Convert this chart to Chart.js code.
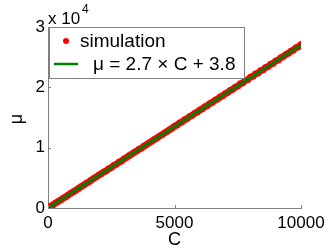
<!DOCTYPE html>
<html lang="en">
<head>
  <meta charset="UTF-8">
  <title>mu vs C</title>
  <script src="https://cdn.jsdelivr.net/npm/chart.js"></script>
  <style>
    html, body { margin: 0; padding: 0; background: #fff; }
    #chart { display: block; }
  </style>
</head>
<body>
  <canvas id="chart" width="332" height="250"></canvas>
  <script>
// simulation points (C, mu)
const simC = [0, 100, 200, 300, 400, 500, 600, 700, 800, 900,
  1000, 1100, 1200, 1300, 1400, 1500, 1600, 1700, 1800, 1900,
  2000, 2100, 2200, 2300, 2400, 2500, 2600, 2700, 2800, 2900,
  3000, 3100, 3200, 3300, 3400, 3500, 3600, 3700, 3800, 3900,
  4000, 4100, 4200, 4300, 4400, 4500, 4600, 4700, 4800, 4900,
  5000, 5100, 5200, 5300, 5400, 5500, 5600, 5700, 5800, 5900,
  6000, 6100, 6200, 6300, 6400, 6500, 6600, 6700, 6800, 6900,
  7000, 7100, 7200, 7300, 7400, 7500, 7600, 7700, 7800, 7900,
  8000, 8100, 8200, 8300, 8400, 8500, 8600, 8700, 8800, 8900,
  9000, 9100, 9200, 9300, 9400, 9500, 9600, 9700, 9800, 9900, 10000];
const simMu = [4, 281, 535, 818, 1090, 1345, 1630, 1885, 2168, 2425,
  2712, 2960, 3250, 3508, 3790, 4045, 4330, 4580, 4870, 5120,
  5415, 5660, 5950, 6190, 6495, 6730, 7030, 7270, 7575, 7810,
  8115, 8350, 8660, 8890, 9200, 9430, 9740, 9965, 10290, 10510,
  10820, 11050, 11370, 11590, 11900, 12130, 12450, 12670, 12990, 13210,
  13530, 13740, 14080, 14290, 14610, 14830, 15160, 15360, 15700, 15900,
  16240, 16440, 16780, 16990, 17320, 17520, 17860, 18070, 18400, 18600,
  18950, 19140, 19490, 19690, 20030, 20230, 20580, 20770, 21120, 21310,
  21660, 21850, 22200, 22390, 22740, 22930, 23290, 23470, 23830, 24010,
  24370, 24550, 24920, 25090, 25460, 25630, 26000, 26170, 26550, 26710, 27080];

// fitted line end points
const fitC = [0, 10000];
const fitMu = [3.8, 27003.8];

const xTicks = [0, 5000, 10000];
const yTicks = [0, 10000, 20000, 30000];

const legendLabels = ['simulation', '\u03bc = 2.7 \u00d7 C + 3.8'];

const FONT = '"Liberation Sans", Arial, sans-serif';
const AXIS = '#808080';

const extras = {
  id: 'extras',
  afterDraw(chart) {
    const ctx = chart.ctx;
    const a = chart.chartArea;
    const xs = chart.scales.x, ys = chart.scales.y;
    ctx.save();
    // inward tick marks
    ctx.strokeStyle = AXIS;
    ctx.lineWidth = 1;
    ctx.beginPath();
    yTicks.forEach(v => {
      const p = Math.round(ys.getPixelForValue(v)) + 0.5;
      ctx.moveTo(a.left, p); ctx.lineTo(a.left + 3, p);
    });
    xTicks.forEach(v => {
      const p = Math.round(xs.getPixelForValue(v)) + 0.5;
      ctx.moveTo(p, a.bottom); ctx.lineTo(p, a.bottom - 3);
    });
    ctx.stroke();

    // exponent label
    ctx.fillStyle = '#000';
    ctx.textBaseline = 'alphabetic';
    ctx.textAlign = 'left';
    ctx.font = '17px ' + FONT;
    ctx.fillText('x 10', a.left, 24);
    ctx.font = '12px ' + FONT;
    ctx.fillText('4', a.left + 34, 13);

    // axis titles
    ctx.font = '18px ' + FONT;
    ctx.textAlign = 'center';
    ctx.textBaseline = 'middle';
    ctx.fillText('C', (a.left + a.right) / 2, 240);
    ctx.save();
    ctx.translate(17, 119);
    ctx.rotate(-Math.PI / 2);
    ctx.fillText('\u03bc', 0, 0);
    ctx.restore();

    // legend box
    const lx = 49, ly = 27, lw = 195, lh = 51;
    ctx.fillStyle = '#fff';
    ctx.fillRect(lx, ly, lw, lh);
    ctx.strokeStyle = AXIS;
    ctx.strokeRect(lx + 0.5, ly + 0.5, lw, lh);
    ctx.fillStyle = '#ff0000';
    ctx.beginPath();
    ctx.arc(66, 41, 3, 0, Math.PI * 2);
    ctx.fill();
    ctx.strokeStyle = '#008000';
    ctx.lineWidth = 2.5;
    ctx.beginPath();
    ctx.moveTo(54, 64); ctx.lineTo(78, 64);
    ctx.stroke();
    ctx.fillStyle = '#000';
    ctx.font = '19px ' + FONT;
    ctx.textAlign = 'left';
    ctx.fillText(legendLabels[0], 80, 42);
    ctx.fillText(legendLabels[1], 93, 65);
    ctx.restore();
  }
};

new Chart(document.getElementById('chart'), {
  type: 'scatter',
  data: {
    datasets: [
      {
        label: legendLabels[1],
        type: 'line',
        data: fitC.map((c, i) => ({ x: c, y: fitMu[i] })),
        borderColor: '#008000',
        borderWidth: 3,
        pointRadius: 0,
        fill: false,
        order: 0
      },
      {
        label: legendLabels[0],
        data: simC.map((c, i) => ({ x: c, y: simMu[i] })),
        backgroundColor: '#ff0000',
        borderWidth: 0,
        pointRadius: 3.5,
        order: 1
      }
    ]
  },
  plugins: [extras],
  options: {
    responsive: false,
    animation: false,
    layout: { padding: { left: 0, top: 27, right: 31, bottom: 0 } },
    plugins: { legend: { display: false }, tooltip: { enabled: false } },
    scales: {
      x: {
        type: 'linear',
        min: 0, max: 10000,
        afterFit(s) { s.height = 42; },
        afterBuildTicks(s) { s.ticks = xTicks.map(v => ({ value: v })); },
        grid: { display: false, drawTicks: false },
        border: { display: true, color: AXIS },
        ticks: { color: '#000', font: { family: FONT, size: 17 }, padding: 5, maxRotation: 0,
          callback: v => String(v) }
      },
      y: {
        type: 'linear',
        min: 0, max: 30000,
        afterFit(s) { s.width = 48; },
        afterBuildTicks(s) { s.ticks = yTicks.map(v => ({ value: v })); },
        grid: { display: false, drawTicks: false },
        border: { display: true, color: AXIS },
        ticks: { color: '#000', font: { family: FONT, size: 17 }, padding: 3,
          callback: v => String(v / 10000) }
      }
    }
  }
});
  </script>
</body>
</html>
